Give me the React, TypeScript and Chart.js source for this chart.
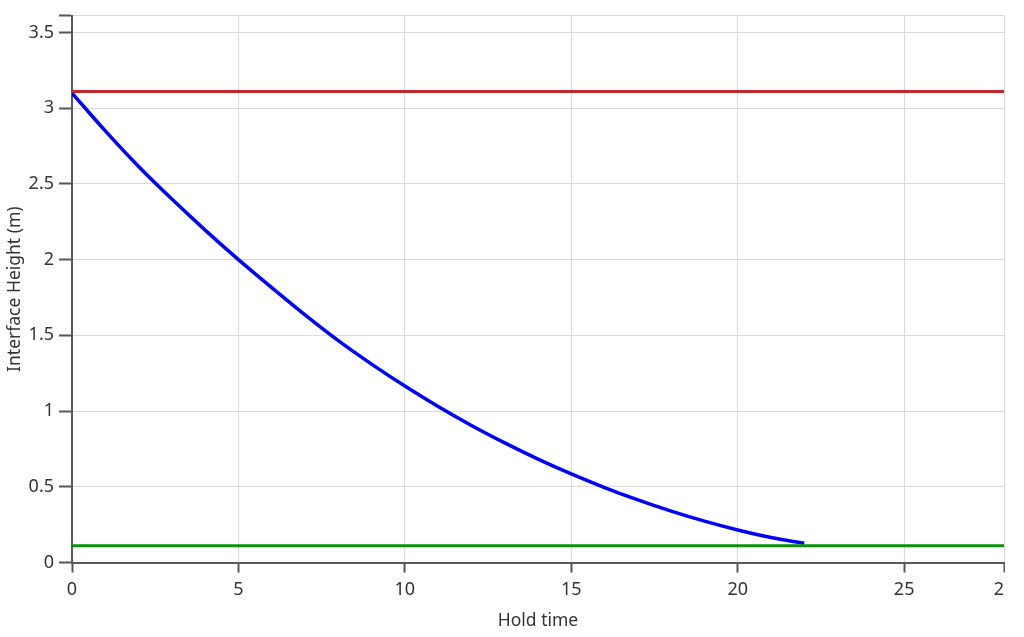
import { useEffect, useRef } from "react";
import { Chart, registerables, ChartConfiguration } from "chart.js";

Chart.register(...registerables);

// hold time (x) and the interface height
const holdTime = [0, 1, 2, 3, 4, 5, 6, 7, 8, 9, 10, 11, 12, 13, 14, 15, 16, 17, 18, 19, 20, 21, 22];
const interfaceHeight = [
  3.1, 2.85, 2.615, 2.4, 2.195, 2.0, 1.815, 1.635, 1.465, 1.31, 1.165, 1.03, 0.905, 0.79, 0.683,
  0.585, 0.495, 0.413, 0.339, 0.273, 0.215, 0.165, 0.127,
];

// the two horizontal limit lines
const limitTime = [0, 28];
const upperLimit = [3.11, 3.11];
const lowerLimit = [0.11, 0.11];

// tick positions on both axes
const xTicks = [0, 5, 10, 15, 20, 25, 28];
const yTicks = [0, 0.5, 1, 1.5, 2, 2.5, 3, 3.5, 3.61];

const font = "'Noto Sans', 'Open Sans', sans-serif";

const App = () => {
  const chartRef = useRef<HTMLCanvasElement>(null);

  useEffect(() => {
    if (!chartRef.current) return;
    const ctx = chartRef.current.getContext("2d");
    if (!ctx) return;

    const config: ChartConfiguration<"line"> = {
      type: "line",
      data: {
        datasets: [
          {
            data: limitTime.map((t, i) => ({ x: t, y: upperLimit[i] })),
            borderColor: "#c4262c",
            borderWidth: 3,
            pointRadius: 0,
          },
          {
            data: limitTime.map((t, i) => ({ x: t, y: lowerLimit[i] })),
            borderColor: "#0c900c",
            borderWidth: 3,
            pointRadius: 0,
          },
          {
            data: holdTime.map((t, i) => ({ x: t, y: interfaceHeight[i] })),
            borderColor: "#0000ff",
            borderWidth: 3.5,
            pointRadius: 0,
            cubicInterpolationMode: "monotone",
          },
        ],
      },
      options: {
        responsive: false,
        animation: false,
        layout: { padding: { left: 0, right: 20, top: 15.7, bottom: 0 } },
        plugins: {
          legend: { display: false },
          tooltip: { enabled: false },
        },
        scales: {
          x: {
            type: "linear",
            min: 0,
            max: 28,
            afterBuildTicks: (scale) => {
              scale.ticks = xTicks.map((v) => ({ value: v }));
            },
            afterFit: (scale) => {
              scale.height = 74.5;
            },
            ticks: {
              font: { family: font, size: 18 },
              color: "#333",
              padding: 7,
              maxRotation: 0,
              callback: (v) => String(v),
            },
            grid: {
              color: "#dadada",
              lineWidth: 1,
              tickColor: "#555",
              tickLength: 10,
              tickWidth: 2,
            },
            border: { color: "#5a5a5a", width: 2 },
            title: {
              display: true,
              text: "Hold time",
              font: { family: font, size: 17.5 },
              color: "#333",
              padding: { top: 0, bottom: 5 },
            },
          },
          y: {
            type: "linear",
            min: 0,
            max: 3.61,
            afterBuildTicks: (scale) => {
              scale.ticks = yTicks.map((v) => ({ value: v }));
            },
            afterFit: (scale) => {
              scale.width = 72;
            },
            ticks: {
              font: { family: font, size: 18 },
              color: "#333",
              padding: 5,
              callback: (v) => (Number(v) > 3.55 ? "" : String(v)),
            },
            grid: {
              color: "#dadada",
              lineWidth: 1,
              tickColor: "#555",
              tickLength: 13,
              tickWidth: 2,
            },
            border: { color: "#5a5a5a", width: 2 },
            title: {
              display: true,
              text: "Interface Height (m)",
              font: { family: font, size: 17.5 },
              color: "#333",
              padding: { top: 5, bottom: 0 },
            },
          },
        },
      },
    };

    const chart = new Chart(ctx, config);
    return () => {
      chart.destroy();
    };
  }, []);

  return (
    <div
      style={{
        position: "fixed",
        left: 0,
        top: 0,
        width: 1005,
        height: 637,
        overflow: "hidden",
        background: "#fff",
      }}
    >
      <canvas ref={chartRef} width={1024} height={637} />
    </div>
  );
};

export default App;
